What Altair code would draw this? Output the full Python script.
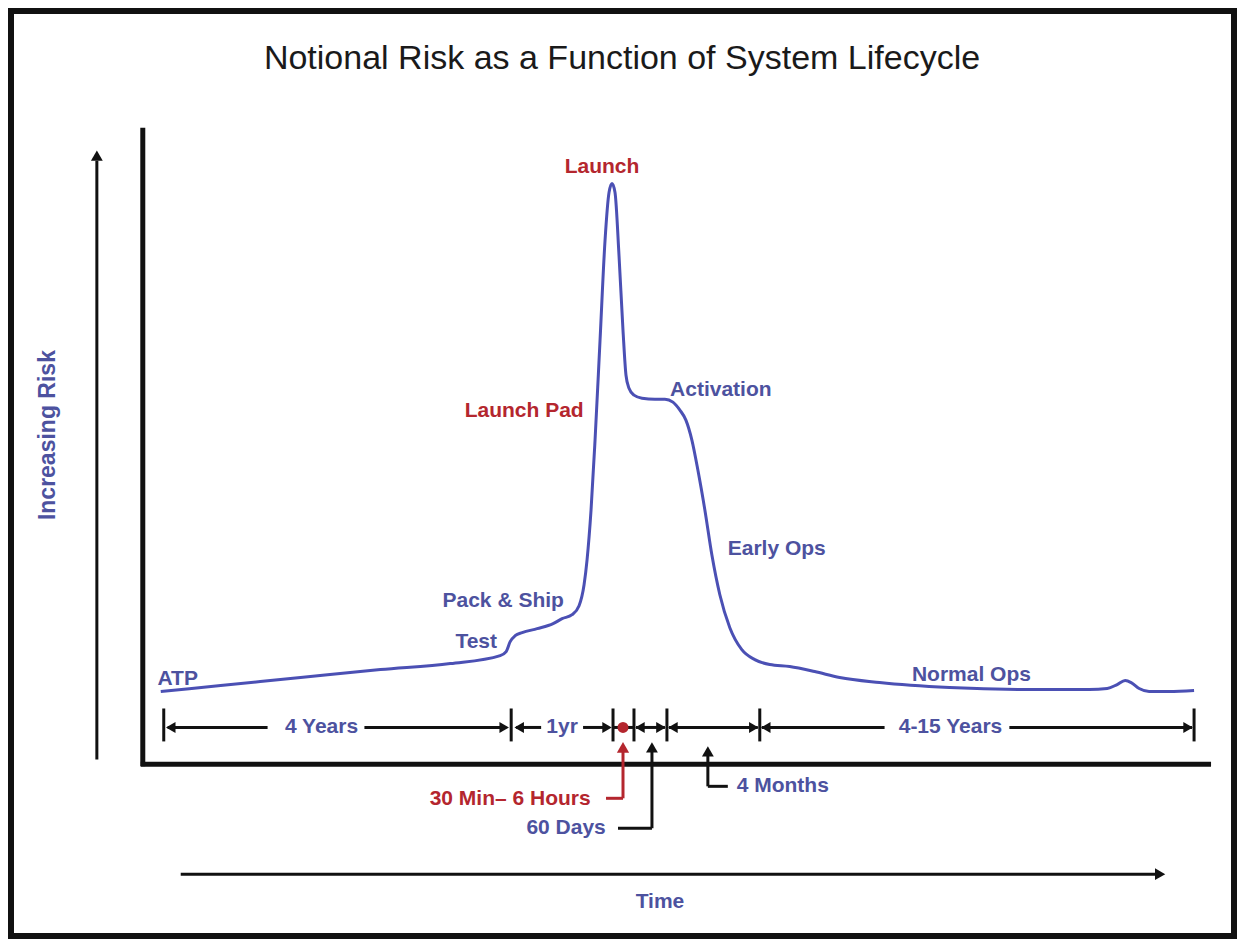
import altair as alt
import pandas as pd

# ---------------- data (in picture units) ----------------
curve_x = [160, 220, 300, 380, 450, 500, 506, 510, 515, 522, 537, 553, 562, 572, 579, 584, 587,
           591, 595, 600, 605, 609, 612, 615, 619, 623, 626, 629, 634, 642, 655, 665, 673, 680,
           686, 692, 698, 705, 712, 720, 730, 742, 755, 770, 790, 815, 840, 880, 950, 1030, 1090,
           1108, 1118, 1126, 1132, 1140, 1150, 1170, 1195]
curve_y = [692, 686, 678, 670, 664, 656, 652, 642, 636, 633, 629, 624, 619, 615, 606, 585, 560,
           510, 440, 340, 240, 192, 183, 192, 255, 330, 375, 388, 395, 398, 399, 399, 402, 410,
           420, 440, 470, 510, 555, 595, 628, 650, 660, 665, 667, 672, 678, 683, 688, 690, 690,
           689, 685, 681, 683, 689, 692, 692, 691]

tick_x = [163, 511, 613, 634, 667, 760, 1195]
seg_start = [167, 364, 516, 583, 613, 636, 669, 762, 1010]
seg_end = [267, 506, 541, 609, 634, 665, 758, 885, 1193]
head_left_x = [170, 519, 640, 673, 766]
head_right_x = [504, 607, 661, 754, 1189]

label_text = ["Launch", "Launch Pad", "Activation", "Early Ops", "Pack & Ship", "Test", "ATP",
              "Normal Ops", "4 Years", "1yr", "4-15 Years", "30 Min\u2013 6 Hours", "60 Days",
              "4 Months", "Time"]
label_x = [602, 524, 721, 777, 503, 476, 177, 972, 321, 562, 951, 510, 566, 783, 660]
label_y = [166, 411, 390, 549, 601, 642, 679, 675, 728, 728, 728, 800, 829, 787, 903]
label_red = [True, True, False, False, False, False, False, False, False, False, False, True,
             False, False, False]

TITLE = "Notional Risk as a Function of System Lifecycle"
YLABEL = "Increasing Risk"

BLUE = "#4b50b4"
BLUE_TXT = "#4d529f"
RED = "#b4262e"
BLACK = "#111111"

W, H = 1229, 931
XS = alt.Scale(domain=[8, 1237], nice=False, zero=False)
YS = alt.Scale(domain=[8, 939], nice=False, zero=False, reverse=True)


def X(f="x"):
    return alt.X(f"{f}:Q", scale=XS, axis=None)


def Y(f="y"):
    return alt.Y(f"{f}:Q", scale=YS, axis=None)


# ---------------- frame ----------------
frame = alt.Chart(pd.DataFrame({"x": [10], "x2": [1235], "y": [10], "y2": [937]})).mark_rect(
    fill=None, stroke=BLACK, strokeWidth=6
).encode(x=X(), x2="x2:Q", y=Y(), y2="y2:Q")

# ---------------- line segments ----------------
rows = []
# main axes
rows.append((142, 142, 127, 767, BLACK, 5))
rows.append((140, 1212, 765, 765, BLACK, 5))
# thin direction arrows
rows.append((96, 96, 160, 760, BLACK, 3))
rows.append((180, 1156, 875, 875, BLACK, 3))
# timeline ticks
for tx in tick_x:
    rows.append((tx, tx, 709, 742, BLACK, 3))
# timeline segments
for a, b in zip(seg_start, seg_end):
    rows.append((a, b, 728, 728, BLACK, 3))
# callouts
rows.append((623, 623, 752, 799, RED, 3))
rows.append((606, 623, 799, 799, RED, 3))
rows.append((652, 652, 752, 829, BLACK, 3))
rows.append((618, 652, 829, 829, BLACK, 3))
rows.append((708, 708, 756, 787, BLACK, 3))
rows.append((708, 728, 787, 787, BLACK, 3))
lines_df = pd.DataFrame(rows, columns=["x", "x2", "y", "y2", "c", "w"])
lines = alt.Chart(lines_df).mark_rule(strokeCap="butt").encode(
    x=X(), x2="x2:Q", y=Y(), y2="y2:Q",
    color=alt.Color("c:N", scale=None),
    strokeWidth=alt.StrokeWidth("w:Q", scale=None),
)

# ---------------- arrowheads ----------------
heads = []
for hx in head_left_x:
    heads.append((hx, 728, "triangle-left", BLACK, 120))
for hx in head_right_x:
    heads.append((hx, 728, "triangle-right", BLACK, 120))
heads.append((96, 155, "triangle-up", BLACK, 140))
heads.append((1161, 875, "triangle-right", BLACK, 140))
heads.append((623, 748, "triangle-up", RED, 150))
heads.append((652, 748, "triangle-up", BLACK, 140))
heads.append((708, 752, "triangle-up", BLACK, 140))
heads_df = pd.DataFrame(heads, columns=["x", "y", "shape", "c", "s"])
arrowheads = alt.Chart(heads_df).mark_point(filled=True, opacity=1, strokeWidth=0).encode(
    x=X(), y=Y(),
    shape=alt.Shape("shape:N", scale=None),
    color=alt.Color("c:N", scale=None),
    size=alt.Size("s:Q", scale=None),
)

dot = alt.Chart(pd.DataFrame({"x": [623], "y": [728]})).mark_circle(
    color=RED, size=120, opacity=1
).encode(x=X(), y=Y())

# ---------------- risk curve ----------------
curve = alt.Chart(pd.DataFrame({"x": curve_x, "y": curve_y})).mark_line(
    color=BLUE, strokeWidth=3, interpolate="monotone"
).encode(x=X(), y=Y())

# ---------------- labels ----------------
lab_df = pd.DataFrame({
    "t": label_text, "x": label_x, "y": label_y,
    "c": [RED if r else BLUE_TXT for r in label_red],
})
labels = alt.Chart(lab_df).mark_text(
    font="Liberation Sans", fontWeight="bold", fontSize=21, align="center", baseline="middle"
).encode(x=X(), y=Y(), text="t:N", color=alt.Color("c:N", scale=None))

title = alt.Chart(pd.DataFrame({"t": [TITLE], "x": [622], "y": [58]})).mark_text(
    font="Liberation Sans", fontSize=34, color="#1a1a1a", align="center", baseline="middle"
).encode(x=X(), y=Y(), text="t:N")

ylab = alt.Chart(pd.DataFrame({"t": [YLABEL], "x": [47], "y": [435]})).mark_text(
    font="Liberation Sans", fontWeight="bold", fontSize=23, color=BLUE_TXT, angle=270,
    align="center", baseline="middle"
).encode(x=X(), y=Y(), text="t:N")

chart = alt.layer(frame, lines, curve, arrowheads, dot, labels, title, ylab).properties(
    width=W, height=H, padding=0,
    autosize=alt.AutoSizeParams(type="fit", contains="padding"),
    background="white",
).configure_view(stroke=None)

chart.save("out.html", embed_options={"renderer": "svg", "actions": False})
